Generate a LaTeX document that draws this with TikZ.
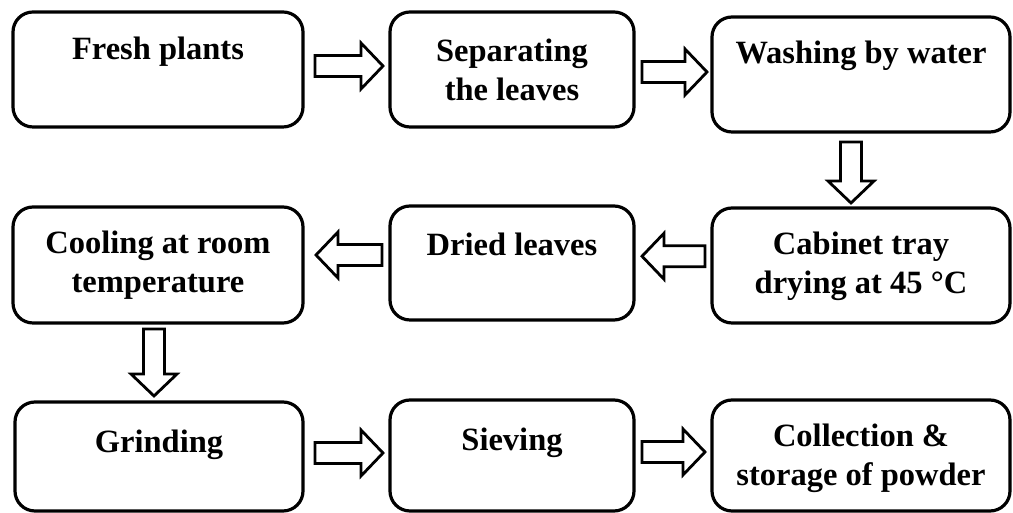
\documentclass[tikz,border=0pt]{standalone}
\usepackage{fontspec}
\setmainfont{Liberation Serif}
\usetikzlibrary{calc}
\tikzset{
  stepbox/.style={draw=black, line width=3.2pt, rounded corners=20pt, inner sep=0pt, fill=white},
  lbl/.style={anchor=north, inner sep=0pt, align=center, font=\bfseries\fontsize{32.5}{39}\selectfont},
  arrowline/.style={draw=black, line width=2.8pt, fill=white, line join=miter, miter limit=10},
  pics/blkarrow/.style={code={
    \draw[arrowline] ({-#1/2},-10.5) -- ({#1/2-22},-10.5) -- ({#1/2-22},-23) -- ({#1/2},0)
      -- ({#1/2-22},23) -- ({#1/2-22},10.5) -- ({-#1/2},10.5) -- cycle;}},
}
\begin{document}
\begin{tikzpicture}[x=1pt,y=1pt]
\useasboundingbox (0,0) rectangle (1013,513);
% boxes
\node[stepbox, minimum width=290pt, minimum height=115pt] (b1) at (158,443.5) {};
\node[stepbox, minimum width=244pt, minimum height=115pt] (b2) at (512,443.5) {};
\node[stepbox, minimum width=298pt, minimum height=115pt] (b3) at (861,438.5) {};
\node[stepbox, minimum width=298pt, minimum height=115pt] (b4) at (861,247.5) {};
\node[stepbox, minimum width=244pt, minimum height=114pt] (b5) at (512,250) {};
\node[stepbox, minimum width=290pt, minimum height=116pt] (b6) at (158,248) {};
\node[stepbox, minimum width=288pt, minimum height=109pt] (b7) at (159,56.5) {};
\node[stepbox, minimum width=244pt, minimum height=111pt] (b8) at (512,57.5) {};
\node[stepbox, minimum width=298pt, minimum height=111pt] (b9) at (861,57.5) {};
% texts
\node[lbl] (t1) at ([yshift=-21.3pt]b1.north) {\strut Fresh plants};
\node[lbl] (t2) at ([yshift=-24pt]b2.north) {\strut Separating\\the leaves};
\node[lbl] (t3) at ([yshift=-20.5pt]b3.north) {\strut Washing by water};
\node[lbl] (t4) at ([yshift=-21pt]b4.north) {\strut Cabinet tray\\drying at 45 °C};
\node[lbl] (t5) at ([yshift=-24pt]b5.north) {\strut Dried leaves};
\node[lbl] (t6) at ([yshift=-20.5pt]b6.north) {\strut Cooling at room\\temperature};
\node[lbl] (t7) at ([yshift=-25pt]b7.north) {\strut Grinding};
\node[lbl] (t8) at ([yshift=-25pt]b8.north) {\strut Sieving};
\node[lbl] (t9) at ([yshift=-20.5pt]b9.north) {\strut Collection \&\\storage of powder};
% block arrows
\pic (a1) at ($(b1.east)!0.5!(b2.west)+(2.5,3.5)$) {blkarrow=68};
\pic (a2) at ($(b2.east)!0.5!(b3.west)+(1.5,0)$) {blkarrow=65};
\pic[rotate=-90] (a3) at ($(b3.south)!0.5!(b4.north)+(-10,-2.5)$) {blkarrow=61};
\pic[rotate=180] (a4) at ($(b5.east)!0.5!(b4.west)+(0.5,8)$) {blkarrow=63};
\pic[rotate=180] (a5) at ($(b6.east)!0.5!(b5.west)+(2.5,9)$) {blkarrow=66};
\pic[rotate=-90] (a6) at ($(b6.south)!0.5!(b7.north)+(-4.5,0)$) {blkarrow=67};
\pic (a7) at ($(b7.east)!0.5!(b8.west)+(2.5,3)$) {blkarrow=68};
\pic (a8) at ($(b8.east)!0.5!(b9.west)+(0.5,3.5)$) {blkarrow=63};
\end{tikzpicture}
\end{document}
